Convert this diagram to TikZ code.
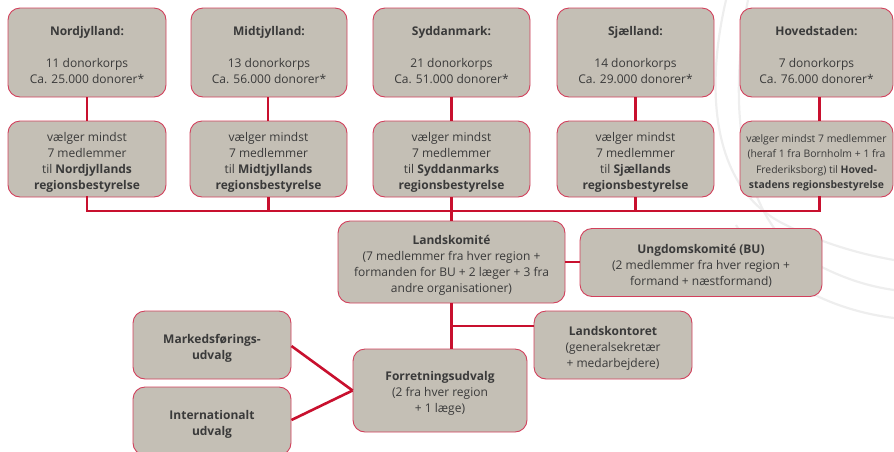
\documentclass[tikz,border=0pt]{standalone}
\usepackage{fontspec}
\setmainfont{Open Sans}
\definecolor{boxfill}{HTML}{C4BFB5}
\definecolor{boxline}{HTML}{D2405C}
\definecolor{connred}{HTML}{C8102E}
\definecolor{txt}{HTML}{3A3A3A}
\definecolor{wmgray}{HTML}{EEEEEE}
\newcommand\fs{\rule{0pt}{15pt}}
\begin{document}
\begin{tikzpicture}[x=1pt,y=-1pt,
  box/.style={draw=boxline, line width=0.9pt, fill=boxfill, rounded corners=12pt,
    align=center, text=txt, inner sep=0pt, font=\fontsize{12}{16}\selectfont},
  conn/.style={draw=connred, line width=2.6pt},
  wm/.style={draw=wmgray, line width=2.2pt}]
\useasboundingbox (0,0) rectangle (894,451);
\clip (0,0) rectangle (894,451);
% faint watermark swooshes
\draw[wm] (726,0) .. controls (705,90) and (712,185) .. (780,222) .. controls (820,243) and (860,254) .. (894,260);
\draw[wm] (748,0) .. controls (728,100) and (738,215) .. (805,258) .. controls (838,277) and (866,286) .. (894,290);
\draw[wm] (736,225) .. controls (770,280) and (830,310) .. (894,318);

% top row
\node[box, minimum width=158pt, minimum height=89pt] (N1) at (87,52.5)
  {\fs\textbf{Nordjylland:}\\[16pt]11 donorkorps\\Ca. 25.000 donorer*};
\node[box, minimum width=156pt, minimum height=89pt] (M1) at (269,52.5)
  {\fs\textbf{Midtjylland:}\\[16pt]13 donorkorps\\Ca. 56.000 donorer*};
\node[box, minimum width=157pt, minimum height=89pt] (S1) at (451.5,52.5)
  {\fs\textbf{Syddanmark:}\\[16pt]21 donorkorps\\Ca. 51.000 donorer*};
\node[box, minimum width=157pt, minimum height=89pt] (J1) at (635.5,52.5)
  {\fs\textbf{Sjælland:}\\[16pt]14 donorkorps\\Ca. 29.000 donorer*};
\node[box, minimum width=153pt, minimum height=89pt] (H1) at (816.5,52.5)
  {\fs\textbf{Hovedstaden:}\\[16pt]7 donorkorps\\Ca. 76.000 donorer*};

% second row
\node[box, minimum width=158pt, minimum height=76pt] (N2) at (87,159)
  {\fs vælger mindst\\7 medlemmer\\til \textbf{Nordjyllands}\\\textbf{regionsbestyrelse}};
\node[box, minimum width=157pt, minimum height=76pt] (M2) at (268.5,159)
  {\fs vælger mindst\\7 medlemmer\\til \textbf{Midtjyllands}\\\textbf{regionsbestyrelse}};
\node[box, minimum width=157pt, minimum height=76pt] (S2) at (451.5,159)
  {\fs vælger mindst\\7 medlemmer\\til \textbf{Syddanmarks}\\\textbf{regionsbestyrelse}};
\node[box, minimum width=157pt, minimum height=76pt] (J2) at (635.5,159)
  {\fs vælger mindst\\7 medlemmer\\til \textbf{Sjællands}\\\textbf{regionsbestyrelse}};
\node[box, minimum width=153pt, minimum height=76pt, font=\fontsize{10.4}{15.5}\selectfont] (H2) at (816.5,159)
  {\fs vælger mindst 7 medlemmer\\(heraf 1 fra Bornholm + 1 fra\\Frederiksborg) til \textbf{Hoved-}\\\textbf{stadens regionsbestyrelse}};

% national level
\node[box, minimum width=227pt, minimum height=82pt] (LK) at (451.5,262)
  {\fs\textbf{Landskomité}\\(7 medlemmer fra hver region +\\formanden for BU + 2 læger + 3 fra\\andre organisationer)};
\node[box, minimum width=242pt, minimum height=68pt] (UK) at (701,262.5)
  {\fs\textbf{Ungdomskomité (BU)}\\(2 medlemmer fra hver region +\\formand + næstformand)};
\node[box, minimum width=158pt, minimum height=68pt] (LO) at (613,345)
  {\fs\textbf{Landskontoret}\\(generalsekretær\\+ medarbejdere)};
\node[box, minimum width=174pt, minimum height=83pt] (FU) at (440,390.5)
  {\fs\textbf{Forretningsudvalg}\\(2 fra hver region\\+ 1 læge)};
\node[box, minimum width=158pt, minimum height=68pt] (MU) at (212,345)
  {\fs\textbf{Markedsførings-}\\\textbf{udvalg}};
\node[box, minimum width=158pt, minimum height=68pt] (IU) at (212,421)
  {\fs\textbf{Internationalt}\\\textbf{udvalg}};

% connectors top rows
\draw[conn] (N1.south) -- (N2.north);
\draw[conn] ([xshift=-1pt]M1.south) -- ([xshift=-0.5pt]M2.north);
\draw[conn] (S1.south) -- (S2.north);
\draw[conn] (J1.south) -- (J2.north);
\draw[conn] ([xshift=3pt]H1.south) -- ([xshift=3pt]H2.north);

% bus
\coordinate (busL) at (87,211);
\coordinate (busR) at (819.5,211);
\draw[conn, line cap=rect] (N2.south) -- (busL) -- (busR) -- ([xshift=3pt]H2.south);
\draw[conn] (M2.south) -- (M2.south |- busL);
\draw[conn] (J2.south) -- (J2.south |- busL);
\draw[conn] (S2.south) -- (LK.north);

% national connectors
\draw[conn] (LK.east) -- (LK.east -| UK.west);
\coordinate (fuTop) at (LK.south |- FU.north);
\draw[conn] (LK.south) -- (fuTop);
\coordinate (loJ) at (451.5,326);
\draw[conn] (loJ) -- (loJ -| LO.west);
\coordinate (fuIn) at (FU.west);
\draw[conn] ([yshift=-1pt]MU.east) -- (fuIn);
\draw[conn] ([yshift=1pt]IU.east) -- (fuIn);
\end{tikzpicture}
\end{document}
